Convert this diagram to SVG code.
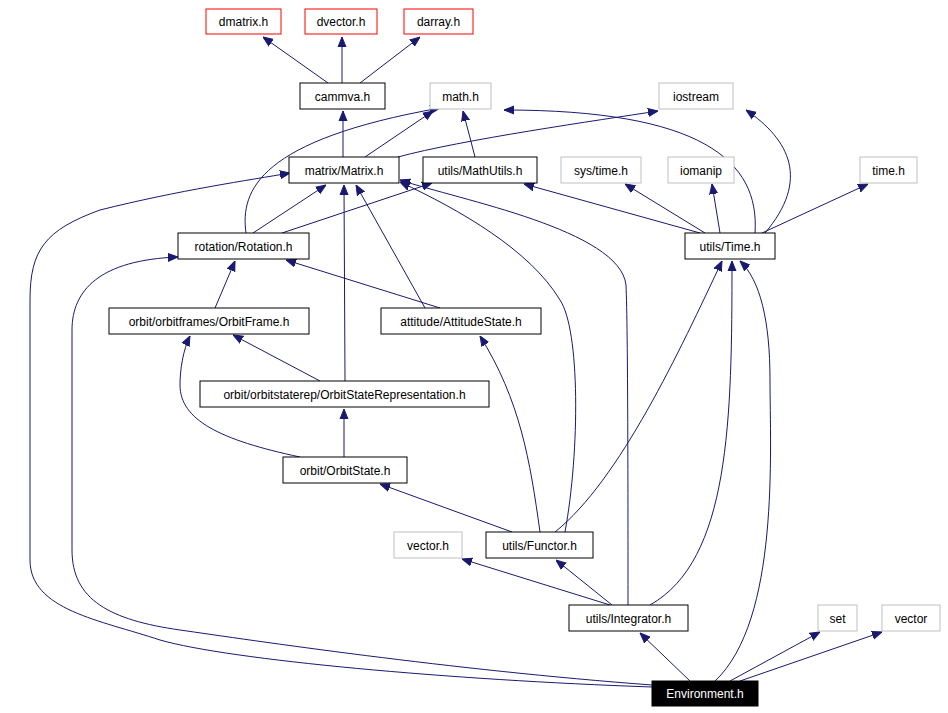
<svg xmlns="http://www.w3.org/2000/svg" width="948" height="713" viewBox="0 0 948 713">
<style>
.n rect{fill:#fff;stroke:#000;stroke-width:1}
.g rect{stroke:#bfbfbf}
.r rect{stroke:#ff0000}
text{font-family:"Liberation Sans",Arial,sans-serif;font-size:12px;text-anchor:middle;fill:#000}
#edges path{fill:none;stroke:#191970;stroke-width:1;marker-end:url(#a)}
</style>
<defs><marker id="a" viewBox="0 0 10 10" refX="10" refY="5" markerWidth="10" markerHeight="10" markerUnits="userSpaceOnUse" orient="auto"><path d="M0,1 L10,5 L0,9 z" fill="#191970" stroke="#191970"/></marker></defs>
<rect width="948" height="713" fill="#fff"/>
<g id="edges">
<path d="M328,83 L263,37"/>
<path d="M342,83 L342,37"/>
<path d="M360,83 L420,37"/>
<path d="M343,157 L343,111"/>
<path d="M365,157 L433,111"/>
<path d="M398,157 C460,140 600,120 658,111"/>
<path d="M475,157 L463,111"/>
<path d="M246,233 C240,190 260,140 440,108"/>
<path d="M253,233 L326,185"/>
<path d="M282,233 L432,183"/>
<path d="M755,233 C760,160 700,110 504,110"/>
<path d="M765,233 C810,180 790,140 746,110"/>
<path d="M705,233 L625,184"/>
<path d="M720,233 L712,184"/>
<path d="M762,233 L868,184"/>
<path d="M700,233 L524,184"/>
<path d="M215,308 L235,261"/>
<path d="M440,308 L286,260"/>
<path d="M425,308 L356,185"/>
<path d="M320,381 L233,335"/>
<path d="M345,381 L344,185"/>
<path d="M344,457 L344,409"/>
<path d="M300,457 C220,440 180,420 180,385 C180,370 183,350 190,336"/>
<path d="M512,532 L380,484"/>
<path d="M540,532 C530,460 520,400 480,336"/>
<path d="M565,532 C580,450 580,330 560,300 C530,250 460,210 400,182"/>
<path d="M555,532 C620,480 680,350 722,261"/>
<path d="M610,605 L462,559"/>
<path d="M612,605 L556,560"/>
<path d="M628,605 C628,500 628,330 626,285 C620,230 460,200 400,180"/>
<path d="M650,605 C730,560 732,420 732,261"/>
<path d="M690,681 L640,633"/>
<path d="M730,681 L820,632"/>
<path d="M740,681 L882,632"/>
<path d="M715,681 C780,620 770,450 770,380 C770,320 760,280 740,261"/>
<path d="M652,687 C450,680 230,660 160,640 C100,620 30,610 30,560 L30,300 C30,250 45,230 100,210 C180,190 250,180 290,173"/>
<path d="M652,685 C450,670 250,640 180,630 C110,620 72,600 72,550 L72,330 C72,290 100,260 178,257"/>
</g>
<g id="dmatrix" class="n r"><rect x="206" y="9" width="75" height="25"/><text x="243.5" y="26">dmatrix.h</text></g>
<g id="dvector" class="n r"><rect x="305" y="9" width="72" height="25"/><text x="341" y="26">dvector.h</text></g>
<g id="darray" class="n r"><rect x="404" y="9" width="69" height="25"/><text x="438.5" y="26">darray.h</text></g>
<g id="cammva" class="n"><rect x="300" y="83" width="85" height="26"/><text x="342.5" y="101">cammva.h</text></g>
<g id="math" class="n g"><rect x="430" y="83" width="61" height="26"/><text x="460.5" y="101">math.h</text></g>
<g id="iostream" class="n g"><rect x="659" y="83" width="74" height="26"/><text x="696" y="101">iostream</text></g>
<g id="matrix" class="n"><rect x="289" y="157" width="110" height="26"/><text x="344" y="175">matrix/Matrix.h</text></g>
<g id="mathutils" class="n"><rect x="423" y="157" width="114" height="26"/><text x="480" y="175">utils/MathUtils.h</text></g>
<g id="systime" class="n g"><rect x="561" y="157" width="80" height="26"/><text x="601" y="175">sys/time.h</text></g>
<g id="iomanip" class="n g"><rect x="668" y="157" width="66" height="26"/><text x="701" y="175">iomanip</text></g>
<g id="timeh" class="n g"><rect x="860" y="157" width="57" height="26"/><text x="888.5" y="175">time.h</text></g>
<g id="rotation" class="n"><rect x="178" y="233" width="131" height="26"/><text x="243.5" y="251">rotation/Rotation.h</text></g>
<g id="time" class="n"><rect x="685" y="233" width="90" height="26"/><text x="730" y="251">utils/Time.h</text></g>
<g id="orbitframe" class="n"><rect x="109" y="308" width="200" height="26"/><text x="209" y="326">orbit/orbitframes/OrbitFrame.h</text></g>
<g id="attitude" class="n"><rect x="381" y="308" width="160" height="26"/><text x="461" y="326">attitude/AttitudeState.h</text></g>
<g id="osr" class="n"><rect x="200" y="381" width="289" height="26"/><text x="344.5" y="399">orbit/orbitstaterep/OrbitStateRepresentation.h</text></g>
<g id="orbitstate" class="n"><rect x="283" y="457" width="124" height="26"/><text x="345" y="475">orbit/OrbitState.h</text></g>
<g id="vectorh" class="n g"><rect x="394" y="532" width="68" height="26"/><text x="428" y="550">vector.h</text></g>
<g id="functor" class="n"><rect x="486" y="532" width="107" height="26"/><text x="539.5" y="550">utils/Functor.h</text></g>
<g id="integrator" class="n"><rect x="569" y="605" width="119" height="26"/><text x="628.5" y="623">utils/Integrator.h</text></g>
<g id="set" class="n g"><rect x="818" y="605" width="39" height="26"/><text x="837.5" y="623">set</text></g>
<g id="vector" class="n g"><rect x="882" y="605" width="58" height="26"/><text x="911" y="623">vector</text></g>
<g id="environment"><rect x="652" y="681" width="106" height="25" fill="#000" stroke="#000"/><text x="705" y="698" style="fill:#fff">Environment.h</text></g>
</svg>
